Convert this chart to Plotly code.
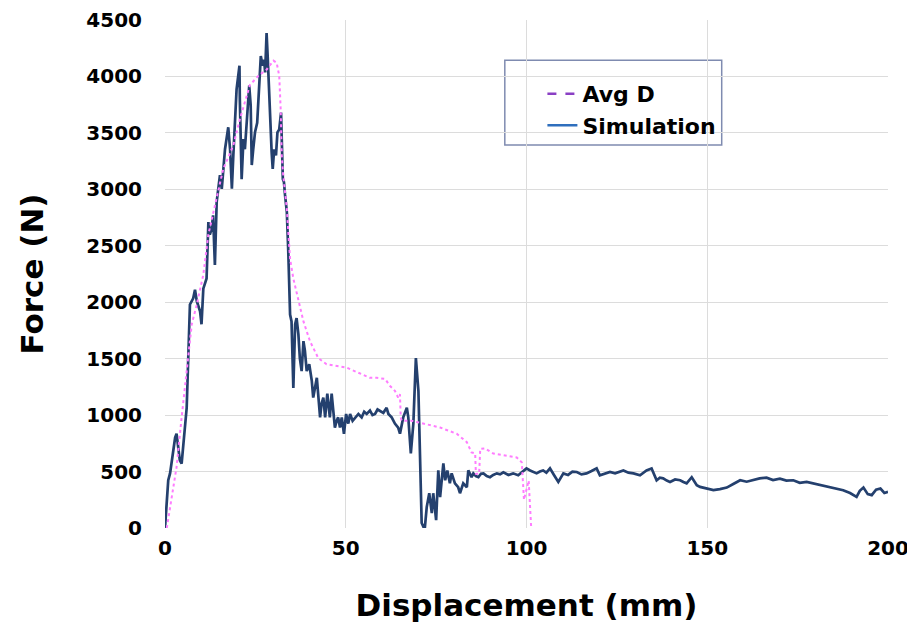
import plotly.graph_objects as go

# ---------------- data ----------------
sim_x = [0, 0.9, 1.4, 2.8, 3.2, 4.1, 4.6, 6.0, 6.9, 7.8, 8.3, 8.8, 9.7, 10.1, 10.6, 11.5,
         12.0, 12.4, 12.9, 13.3, 13.8, 14.3, 15.2, 15.7, 16.6, 17.5, 18.0, 18.5, 18.9, 19.4,
         19.8, 20.6, 20.7, 21.2, 21.7, 22.1, 22.6, 23.3, 23.7, 24.0, 24.4, 24.9, 25.5, 26.1,
         26.5, 27.0, 27.4, 27.7, 28.1, 28.4, 28.9, 29.5, 29.8, 30.2, 30.7, 31.1, 31.6, 32.1,
         32.6, 32.9, 33.2, 33.7, 34.1, 34.6, 35.0, 35.5, 36.0, 36.4, 36.9, 37.3, 37.8, 38.3,
         38.7, 39.2, 39.9, 40.6, 41.0, 42.0, 42.9, 43.3, 43.8, 44.3, 44.9, 45.6, 46.1, 47.0,
         47.5, 47.9, 48.4, 48.9, 49.5, 50.1, 50.7, 51.2, 51.9, 52.6, 53.5, 54.4, 55.1, 55.8,
         56.7, 57.4, 58.1, 58.8, 59.5, 60.4, 61.3, 61.8, 62.7, 63.6, 64.5, 65.0, 65.9, 66.9,
         67.3, 68.0, 68.7, 69.4, 70.1, 70.5, 71.0, 71.5, 71.9, 72.4, 73.1, 73.8, 74.2, 75.0,
         75.6, 76.1, 77.0, 77.5, 78.1, 78.8, 79.3, 80.2, 81.1, 81.6, 82.5, 83.5, 83.9, 84.8,
         85.3, 86.0, 86.7, 87.4, 88.1, 89.0, 89.9, 90.8, 91.8, 92.7, 93.6, 95.0, 96.3, 97.7,
         98.7, 100.0, 101.0, 101.9, 102.8, 103.7, 104.6, 105.5, 106.5, 107.6, 108.8, 110.2,
         111.5, 112.7, 113.9, 115.2, 116.6, 118.0, 119.4, 120.3, 121.7, 123.1, 124.5, 125.6,
         126.8, 128.2, 129.6, 131.4, 133.2, 134.6, 136.0, 136.9, 137.8, 138.8, 139.7, 141.1,
         142.5, 143.4, 144.3, 145.7, 147.1, 148.0, 149.8, 151.7, 153.5, 155.4, 157.2, 159.1,
         160.9, 162.7, 164.5, 166.4, 168.2, 170.1, 171.9, 173.8, 175.6, 177.5, 179.3, 181.2,
         183.0, 184.9, 186.3, 187.6, 189.5, 191.3, 192.2, 193.2, 194.4, 195.5, 196.7, 197.9,
         199.0, 200.0]
sim_y = [0, 423, 484, 800, 835, 600, 570, 1065, 1980, 2035, 2110, 2010, 1920, 1805, 2120, 2210,
         2710, 2600, 2650, 2770, 2330, 2890, 3125, 3005, 3355, 3550, 3355, 3005, 3300, 3590,
         3885, 4095, 3795, 3090, 3445, 3355, 3590, 3920, 3745, 3215, 3355, 3505, 3590, 3885,
         4180, 4095, 4150, 4035, 4385, 4180, 3745, 3330, 3180, 3355, 3300, 3505, 3530, 3680,
         3090, 3065, 2950, 2800, 2450, 1890, 1830, 1240, 1805, 1860, 1715, 1505, 1390, 1655,
         1570, 1390, 1450, 1305, 1155, 1330, 980, 1100, 1155, 980, 1190, 980, 1190, 890,
         950, 980, 890, 980, 835, 1010, 925, 1010, 950, 980, 1010, 980, 1030, 1010,
         1040, 1000, 1010, 1050, 1040, 1020, 1065, 1010, 980, 925, 890, 835, 980, 1065,
         980, 660, 925, 1505, 1215, 625, 44, 9, 9, 185, 308, 132, 308, 70,
         510, 273, 572, 423, 510, 396, 484, 396, 361, 308, 396, 361, 510, 450,
         484, 460, 450, 480, 484, 460, 450, 470, 484, 475, 493, 470, 484, 467,
         493, 528, 510, 496, 484, 500, 510, 490, 528, 470, 408, 484,
         470, 500, 496, 475, 484, 505, 528, 467, 480, 496, 485, 500,
         510, 490, 484, 467, 510, 528, 423, 445, 440, 420, 408, 430,
         423, 408, 396, 450, 379, 364, 350, 335, 345, 358, 390, 423,
         410, 423, 440, 446, 425, 437, 420, 423, 400, 408, 395, 379,
         370, 358, 345, 335, 310, 276, 330, 358, 300, 291, 340, 350,
         310, 320]

avg_x = [0.5, 1.8, 3.2, 4.6, 6.0, 7.4, 8.8, 10.6, 12.0, 13.4, 16.1, 18.9, 20.7, 23.5, 25.8,
         28.1, 30.0, 30.9, 31.6, 32.0, 32.3, 32.7, 33.7, 34.1, 34.6, 35.5, 36.9, 38.3, 40.1,
         42.4, 44.7, 47.5, 50.3, 53.5, 56.7, 58.6, 60.9, 62.2, 63.6, 64.5, 65.0, 65.2, 65.5,
         68.2, 71.5, 76.1, 80.7, 83.5, 84.8, 85.8, 86.0, 86.9, 87.2, 88.5, 90.8, 93.6, 97.3,
         98.7, 99.3, 100.6, 101.3]
avg_y = [0, 245, 540, 980, 1420, 1805, 1980, 2245, 2600, 2800, 3180, 3390, 3620, 3925, 4005,
         4060, 4140, 4120, 4005, 3710, 3300, 3125, 2830, 2625, 2385, 2210, 2010, 1830, 1655,
         1505, 1450, 1435, 1420, 1375, 1330, 1330, 1320, 1260, 1215, 1155, 1185, 980, 950,
         950, 925, 890, 835, 760, 670, 660, 480, 480, 700, 705, 660, 643, 625,
         581, 250, 420, 0]

x_ticks = [0, 50, 100, 150, 200]
y_ticks = [0, 500, 1000, 1500, 2000, 2500, 3000, 3500, 4000, 4500]

FONT = "DejaVu Sans"

fig = go.Figure()
fig.add_trace(go.Scatter(x=sim_x, y=sim_y, mode="lines", name="Simulation", showlegend=False,
                         line=dict(color="#24406e", width=2.7)))
fig.add_trace(go.Scatter(x=avg_x, y=avg_y, mode="lines", name="Avg D", showlegend=False,
                         line=dict(color="#ff7cff", width=2, dash="dot")))
# legend entries (styled as in the reference's legend)
fig.add_trace(go.Scatter(x=[None], y=[None], mode="lines", name="Avg D",
                         line=dict(color="#8a3fc4", width=2.5, dash="dash")))
fig.add_trace(go.Scatter(x=[None], y=[None], mode="lines", name="Simulation",
                         line=dict(color="#2f6fbd", width=2.5)))

fig.add_shape(type="rect", xref="paper", yref="paper", x0=0.470, x1=0.770, y0=0.754, y1=0.921,
              line=dict(color="#7f8bb0", width=1.5), fillcolor="white", layer="between")

# the page adds an 8px body margin, so the figure is 8px smaller and margins shifted
fig.update_layout(
    width=907, height=626,
    margin=dict(l=157, r=27, t=12, b=106),
    paper_bgcolor="white", plot_bgcolor="white",
    font=dict(family=FONT, color="black"),
    legend=dict(x=0.522, y=0.896, xanchor="left", yanchor="top",
                bgcolor="rgba(0,0,0,0)", borderwidth=0,
                font=dict(family=FONT, size=22, weight="bold", color="black")),
    xaxis=dict(range=[0, 200], tickvals=x_ticks, ticktext=[str(v) for v in x_ticks],
               automargin=False, ticklabeloverflow="allow",
               showgrid=True, gridcolor="#dcdcdc", gridwidth=1, zeroline=False, showline=False,
               ticks="", ticklabelstandoff=6, tickfont=dict(family=FONT, size=20, weight="bold"),
               title=dict(text="Displacement (mm)", standoff=35,
                          font=dict(family=FONT, size=31, weight="bold"))),
    yaxis=dict(range=[0, 4500], tickvals=y_ticks, ticktext=[str(v) for v in y_ticks],
               automargin=False, ticklabeloverflow="allow",
               showgrid=True, gridcolor="#dcdcdc", gridwidth=1, zeroline=False, showline=False,
               ticks="", ticklabelstandoff=22, tickfont=dict(family=FONT, size=20, weight="bold"),
               title=dict(text="Force (N)", standoff=33,
                          font=dict(family=FONT, size=31, weight="bold"))),
)

fig.write_html("out.html")
